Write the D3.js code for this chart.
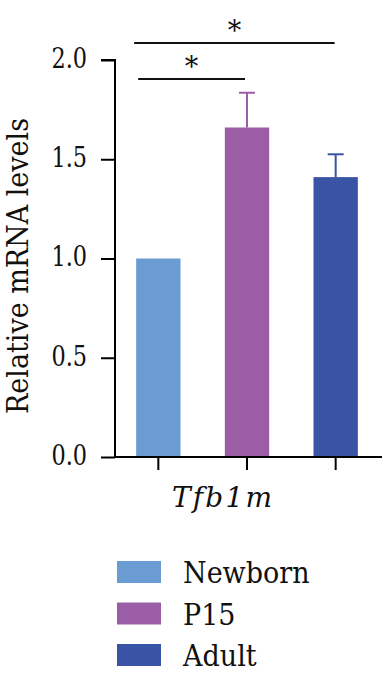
<!DOCTYPE html>
<html><head><meta charset="utf-8">
<script src="https://cdn.jsdelivr.net/npm/d3@7"></script>
<style>html,body{margin:0;padding:0;background:#fff;}svg{display:block;}
text{font-family:"DejaVu Serif","Liberation Serif",serif;}</style>
</head><body>
<svg id="chart" width="382" height="678"></svg>
<script>
const categories = ["Newborn", "P15", "Adult"];
const values = [1.0, 1.66, 1.41];
const errors = [0, 0.175, 0.115];
const colors = ["#6a9bd3", "#9b5ea6", "#3a54a5"];
const yTicks = [0.0, 0.5, 1.0, 1.5, 2.0];
const comparisons = [
  {from: "Newborn", to: "Adult", label: "*", level: 1},
  {from: "Newborn", to: "P15", label: "*", level: 0}
];
const geneLabel = "Tfb1m";
const yLabel = "Relative mRNA levels";

const svg = d3.select("#chart");

function squeeze(sel, k) {
  sel.each(function() {
    const w = this.getComputedTextLength();
    d3.select(this).attr("textLength", w * k).attr("lengthAdjust", "spacingAndGlyphs");
  });
}

const y = d3.scaleLinear().domain([0, 2]).range([457, 60]);
const x = d3.scaleBand().domain(categories).range([114, 380]).paddingInner(0.5).paddingOuter(0.25);

svg.selectAll("rect.bar").data(categories).join("rect")
  .attr("x", d => x(d)).attr("width", x.bandwidth())
  .attr("y", (d, i) => y(values[i])).attr("height", (d, i) => y(0) - y(values[i]))
  .attr("fill", (d, i) => colors[i]);

categories.forEach((c, i) => {
  if (!errors[i]) return;
  const cx = x(c) + x.bandwidth() / 2;
  svg.append("line").attr("x1", cx).attr("x2", cx)
    .attr("y1", y(values[i])).attr("y2", y(values[i] + errors[i]))
    .attr("stroke", colors[i]).attr("stroke-width", 2);
  svg.append("line").attr("x1", cx - 8).attr("x2", cx + 8)
    .attr("y1", y(values[i] + errors[i])).attr("y2", y(values[i] + errors[i]))
    .attr("stroke", colors[i]).attr("stroke-width", 2);
});

const yAxis = svg.append("g").attr("transform", "translate(115,0)")
  .call(d3.axisLeft(y).tickValues(yTicks).tickFormat(d3.format(".1f")).tickSize(14).tickPadding(14));
yAxis.attr("font-family", null).attr("font-size", null);
yAxis.select(".domain").attr("stroke", "#000").attr("stroke-width", 2).attr("d", `M-14,${y(2)}H0V${y(0)}`);
yAxis.selectAll(".tick line").attr("stroke", "#000").attr("stroke-width", 2);
yAxis.selectAll(".tick text").style("font-size", "28px").attr("fill", "#111").attr("dy", "0.26em")
  .attr("x", -28);
squeeze(yAxis.selectAll(".tick text"), 0.8);

const xAxis = svg.append("g").attr("transform", `translate(0,${y(0)})`)
  .call(d3.axisBottom(x).tickSize(13).tickFormat(""));
xAxis.select(".domain").attr("stroke", "#000").attr("stroke-width", 2).attr("d", "M114,0H382");
xAxis.selectAll(".tick line").attr("stroke", "#000").attr("stroke-width", 2);

comparisons.forEach(c => {
  const x1 = x(c.from) + 2 - (c.level ? 4 : 0);
  const x2 = x(c.to) + x.bandwidth() / 2 - (c.level ? 1 : 2);
  const ly = c.level ? 43 : 79;
  svg.append("line").attr("x1", x1).attr("x2", x2).attr("y1", ly).attr("y2", ly)
    .attr("stroke", "#111").attr("stroke-width", 2);
  svg.append("text").attr("x", (x1 + x2) / 2).attr("y", ly - 3)
    .attr("text-anchor", "middle").style("font-size", "27px")
    .attr("fill", "#111").text(c.label);
});

const yl = svg.append("text").attr("transform", `translate(28,266) rotate(-90)`)
  .attr("text-anchor", "middle").style("font-size", "29px")
  .attr("fill", "#111").text(yLabel);
yl.attr("textLength", 296).attr("lengthAdjust", "spacingAndGlyphs");

svg.append("text").attr("x", 222).attr("y", 507).attr("text-anchor", "middle")
  .style("font-style", "italic").style("font-size", "28px")
  .attr("textLength", 100).attr("lengthAdjust", "spacing")
  .attr("fill", "#111").text(geneLabel);

const leg = svg.append("g");
categories.forEach((c, i) => {
  const ty = 561 + i * 41.5;
  leg.append("rect").attr("x", 117).attr("y", ty).attr("width", 44).attr("height", 22).attr("fill", colors[i]);
  leg.append("text").attr("x", 183).attr("y", ty + 22)
    .style("font-size", "30px").attr("fill", "#111").text(c);
});
squeeze(leg.selectAll("text"), 0.9);
</script>
</body></html>
